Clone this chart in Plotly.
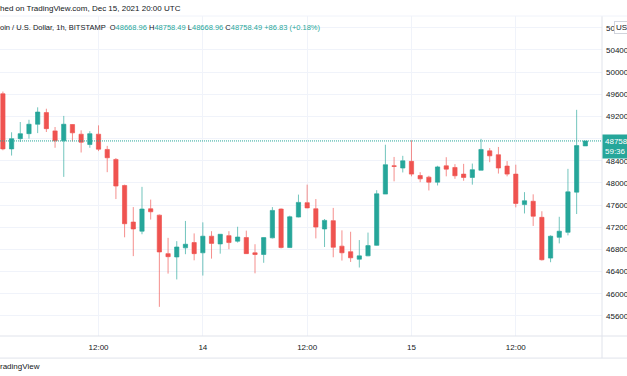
import plotly.graph_objects as go
import pandas as pd

# ---- data (BTC/USD 1h, Bitstamp) ----
start_time = "2021-12-13 01:00"
opens = [49610, 48615, 48800, 48890, 49060, 49270, 48940, 48760, 49055, 48880,
         48695, 48880, 48605, 48425, 47955, 47295, 47130, 47535, 47420, 46725,
         46665, 46830, 46925, 46740, 47040, 46900, 47050, 46950, 47015, 46740,
         46710, 47010, 47530, 46835, 47385, 47645, 47535, 47170, 47320, 46860,
         46760, 46625, 46685, 46875, 47800, 48310, 48270, 48390, 48135, 48105,
         48015, 48310, 48280, 48160, 48100, 48230, 48580, 48510, 48305, 48160,
         47610, 47670, 47380, 46645, 47020, 47110, 47835, 48668.96]
highs = [49650, 48915, 49100, 49140, 49365, 49340, 49010, 49210, 49060, 48950,
         48935, 49040, 48670, 48450, 47970, 47565, 47930, 47700, 47430, 47010,
         46950, 47315, 47090, 47290, 47130, 47075, 47130, 47210, 47140, 46895,
         47020, 47565, 47540, 47410, 47790, 47970, 47710, 47350, 47550, 47145,
         47120, 46970, 47105, 47870, 48690, 48470, 48490, 48770, 48195, 48130,
         48310, 48465, 48340, 48345, 48350, 48795, 48630, 48650, 48395, 48330,
         47835, 47795, 47490, 47055, 47390, 48255, 49320, 48758.49]
lows = [48590, 48495, 48740, 48800, 48900, 48920, 48635, 48110, 48750, 48550,
        48635, 48575, 48195, 47710, 47020, 46680, 47075, 47340, 45765, 46365,
        46260, 46715, 46605, 46330, 46635, 46725, 46805, 46925, 46720, 46370,
        46560, 47000, 46820, 46830, 47380, 47545, 47000, 46845, 46660, 46600,
        46575, 46475, 46680, 46870, 47800, 48030, 48190, 48120, 48015, 47865,
        47955, 48120, 48075, 48040, 47970, 48230, 48375, 48170, 48120, 47560,
        47450, 47225, 46600, 46570, 46910, 47055, 47440, 48668.96]
closes = [48615, 48800, 48890, 49060, 49280, 48980, 48760, 49060, 48905, 48735,
          48890, 48610, 48455, 47945, 47265, 47170, 47530, 47480, 46755, 46670,
          46845, 46895, 46725, 47040, 46910, 47075, 46925, 47025, 46725, 46710,
          47015, 47505, 46835, 47390, 47650, 47550, 47205, 47325, 46840, 46740,
          46650, 46685, 46870, 47805, 48330, 48300, 48400, 48160, 48075, 48015,
          48290, 48250, 48130, 48100, 48240, 48605, 48490, 48270, 48160, 47630,
          47680, 47400, 46615, 47040, 47130, 47840, 48675, 48758.49]
times = pd.date_range(start_time, periods=len(opens), freq="h")

x_tick_vals = ["2021-12-13 12:00", "2021-12-14 00:00", "2021-12-14 12:00",
               "2021-12-15 00:00", "2021-12-15 12:00"]
x_tick_text = ["12:00", "14", "12:00", "15", "12:00"]
y_tick_vals = [45600, 46000, 46400, 46800, 47200, 47600, 48000, 48400, 48800,
               49200, 49600, 50000, 50400, 50800]
last_price = 48758.49

UP = "#26a69a"
DOWN = "#ef5350"
GRID = "#f0f3fa"
BORDER = "#e0e3eb"
TXT = "#131722"
FONT = "Liberation Sans"

fig = go.Figure(go.Candlestick(
    x=times, open=opens, high=highs, low=lows, close=closes,
    increasing=dict(fillcolor=UP, line=dict(color="rgba(38,166,154,0.65)", width=1)),
    decreasing=dict(fillcolor=DOWN, line=dict(color="rgba(239,83,80,0.65)", width=1)),
    hoverinfo="skip", showlegend=False,
))

shapes = [
    dict(type="line", xref="paper", yref="y", x0=0, x1=1, y0=last_price, y1=last_price,
         line=dict(color=UP, width=1, dash="1px,1px")),
    dict(type="line", xref="paper", yref="paper", x0=0, x1=1.05, y0=0, y1=0,
         line=dict(color=BORDER, width=1)),
    dict(type="line", xref="paper", yref="paper", x0=0, x1=1.05, y0=-0.069, y1=-0.069,
         line=dict(color=BORDER, width=1)),
    dict(type="line", xref="paper", yref="paper", x0=1, x1=1, y0=-0.069, y1=1,
         line=dict(color=BORDER, width=1)),
    dict(type="line", xref="paper", yref="paper", x0=0, x1=1.05, y0=1, y1=1,
         line=dict(color=GRID, width=1)),
]

val = "<span style='color:%s'>%s</span>"
line2 = ("oin / U.S. Dollar, 1h, BITSTAMP  O" + val % (UP, "48668.96") +
         " H" + val % (UP, "48758.49") + " L" + val % (UP, "48668.96") +
         " C" + val % (UP, "48758.49") + " " + val % (UP, "+86.83 (+0.18%)"))

annotations = [
    dict(text="hed on TradingView.com, Dec 15, 2021 20:00 UTC", xref="paper", yref="paper",
         x=0, y=1.022, xanchor="left", yanchor="middle", xshift=-2, showarrow=False,
         font=dict(family=FONT, size=8, color=TXT)),
    dict(text=line2, xref="paper", yref="paper",
         x=0, y=0.9656, xanchor="left", yanchor="middle", xshift=-2, showarrow=False,
         font=dict(family=FONT, size=7.5, color=TXT)),
    dict(text="radingView", xref="paper", yref="paper",
         x=0, y=-0.094, xanchor="left", yanchor="middle", xshift=-2, showarrow=False,
         font=dict(family=FONT, size=8, color=TXT)),
    dict(text="48758<br>59:36", xref="paper", yref="y", x=1.0, y=last_price,
         xanchor="left", yanchor="top", yshift=7, showarrow=False, align="left",
         bgcolor=UP, borderpad=2, font=dict(family=FONT, size=8, color="white")),
    dict(text="USD", xref="paper", yref="paper", x=1.02, y=0.9625,
         xanchor="left", yanchor="middle", showarrow=False,
         bgcolor="white", bordercolor="#d1d4dc", borderwidth=1, borderpad=1,
         font=dict(family=FONT, size=8, color=TXT)),
]

fig.update_layout(
    width=627, height=376,
    margin=dict(l=0, r=25, t=16, b=40, autoexpand=False),
    paper_bgcolor="white", plot_bgcolor="white",
    font=dict(family=FONT, size=8, color=TXT),
    shapes=shapes, annotations=annotations,
    hovermode=False,
    xaxis=dict(
        type="date", range=["2021-12-13 00:40", "2021-12-15 21:55"],
        rangeslider=dict(visible=False), automargin=False,
        tickvals=x_tick_vals, ticktext=x_tick_text,
        showgrid=True, gridcolor=GRID, gridwidth=1, zeroline=False, showline=False,
        ticks="", ticklabelstandoff=5, tickfont=dict(family=FONT, size=8, color=TXT),
    ),
    yaxis=dict(
        side="right", range=[45239, 51013], automargin=False,
        tickvals=y_tick_vals, ticktext=[str(v) for v in y_tick_vals],
        showgrid=True, gridcolor=GRID, gridwidth=1, zeroline=False, showline=False,
        ticks="", ticklabelstandoff=3, tickfont=dict(family=FONT, size=8, color=TXT),
    ),
)

fig.write_html("out.html", config={"displayModeBar": False, "staticPlot": True},
               post_script="document.body.style.margin='0';document.body.style.overflow='hidden';")
